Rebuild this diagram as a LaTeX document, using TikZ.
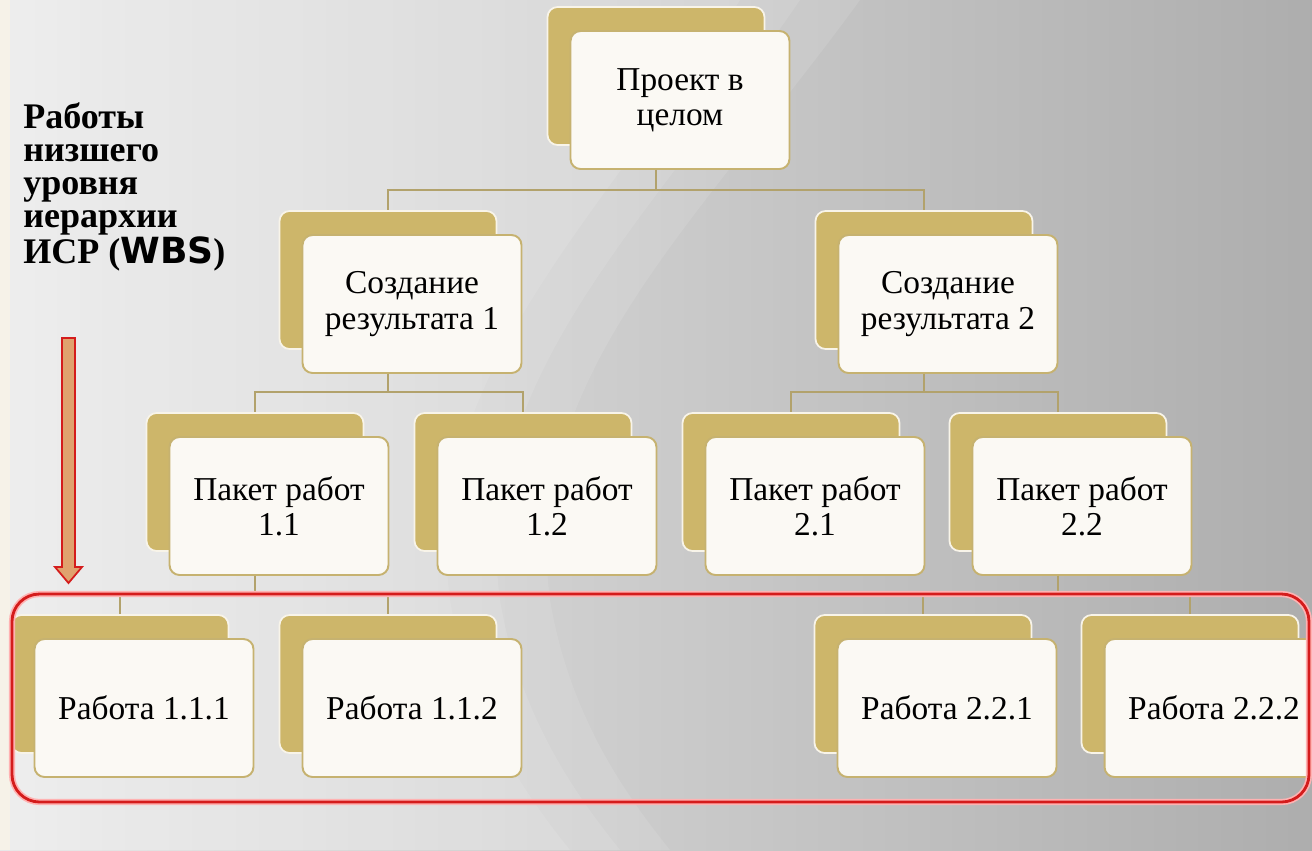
\documentclass[tikz,border=0pt]{standalone}
\usepackage{fontspec}
\setmainfont{Liberation Serif}
\newfontfamily\wbsfont{DejaVu Sans}
\usetikzlibrary{positioning}

\definecolor{gold}{RGB}{205,182,106}
\definecolor{cream}{RGB}{251,249,244}
\definecolor{tan}{RGB}{198,178,112}
\definecolor{linecol}{RGB}{178,162,108}
\definecolor{wbsred}{RGB}{212,28,28}
\definecolor{arrowfill}{RGB}{224,162,110}
\definecolor{strip}{RGB}{246,242,232}

\begin{document}
\begin{tikzpicture}[
      x=0.02cm, y=-0.02cm,
      back/.style={rectangle, rounded corners=0.2cm, fill=gold, draw=white!85!gold, line width=1pt, minimum width=4.34cm, minimum height=2.76cm},
      box/.style={rectangle, rounded corners=0.2cm, fill=cream, draw=tan, line width=1.1pt, minimum width=4.38cm, minimum height=2.76cm, align=center, font=\fontsize{19}{20}\selectfont, shift={(24,24)}},
      link/.style={draw=linecol, line width=1.2pt}
    ]
    % background
    \useasboundingbox (0,0) rectangle (1312,850);
    \shade[left color=black!9, right color=black!32] (0,0) rectangle (1312,850);
    \fill[white, opacity=0.1] (10,0) -- (860,0) .. controls (700,220) and (520,380) .. (550,600) .. controls (570,720) and (630,800) .. (670,850) -- (10,850) -- cycle;
    \fill[white, opacity=0.1] (10,0) -- (800,0) .. controls (650,220) and (470,380) .. (500,600) .. controls (520,720) and (580,800) .. (620,850) -- (10,850) -- cycle;
    \fill[white, opacity=0.1] (10,0) -- (740,0) .. controls (600,220) and (420,380) .. (450,600) .. controls (470,720) and (530,800) .. (570,850) -- (10,850) -- cycle;
    \fill[strip] (0,0) rectangle (10,850);

    % gold backs
    \node[back] (projb) at (656,76) {};
    \node[back] (res1b) at (388,280) {};
    \node[back] (res2b) at (924,280) {};
    \node[back] (p11b) at (255,482) {};
    \node[back] (p12b) at (523,482) {};
    \node[back] (p21b) at (791,482) {};
    \node[back] (p22b) at (1058,482) {};
    \node[back] (w111b) at (120,684) {};
    \node[back] (w112b) at (388,684) {};
    \node[back] (w221b) at (923,684) {};
    \node[back] (w222b) at (1190,684) {};

    % text boxes
    \node[box] (proj) at (projb) {Проект в\\целом};
    \node[box] (res1) at (res1b) {Создание\\результата 1};
    \node[box] (res2) at (res2b) {Создание\\результата 2};
    \node[box] (p11) at (p11b) {Пакет работ\\1.1};
    \node[box] (p12) at (p12b) {Пакет работ\\1.2};
    \node[box] (p21) at (p21b) {Пакет работ\\2.1};
    \node[box] (p22) at (p22b) {Пакет работ\\2.2};
    \node[box] (w111) at (w111b) {Работа 1.1.1};
    \node[box] (w112) at (w112b) {Работа 1.1.2};
    \node[box] (w221) at (w221b) {Работа 2.2.1};
    \node[box] (w222) at (w222b) {Работа 2.2.2};

    % connectors
    \coordinate (bus1) at (0,190);
    \coordinate (bus2) at (0,392);
    \coordinate (bus3) at (0,596);
    \draw[link] (projb |- proj.south) -- (projb |- bus1) -| (res1b.north);
    \draw[link] (projb |- bus1) -| (res2b.north);
    \draw[link] (res1b |- res1.south) -- (res1b |- bus2) -| (p11b.north);
    \draw[link] (res1b |- bus2) -| (p12b.north);
    \draw[link] (res2b |- res2.south) -- (res2b |- bus2) -| (p21b.north);
    \draw[link] (res2b |- bus2) -| (p22b.north);
    \draw[link] (p11b |- p11.south) -- (p11b |- bus3) -| (w111b.north);
    \draw[link] (p11b |- bus3) -| (w112b.north);
    \draw[link] (p22b |- p22.south) -- (p22b |- bus3) -| (w221b.north);
    \draw[link] (p22b |- bus3) -| (w222b.north);

    % lowest level
    \node[anchor=north west, align=left, inner sep=0pt, font=\bfseries\fontsize{20.5}{18.8}\selectfont] (lowest) at (23,102) {Работы\\низшего\\уровня\\иерархии\\ИСР ({\wbsfont WBS})};
    \filldraw[draw=wbsred, fill=arrowfill, line width=1pt] (62,338) -- (75,338) -- (75,567) -- (82,567) -- (68.5,583) -- (55,567) -- (62,567) -- cycle;
    \draw[red!30, line width=3.5pt, rounded corners=0.55cm] (12,594) rectangle (1309,802);
    \draw[wbsred, line width=1.6pt, rounded corners=0.55cm] (12,594) rectangle (1309,802);
  \end{tikzpicture}
\end{document}
